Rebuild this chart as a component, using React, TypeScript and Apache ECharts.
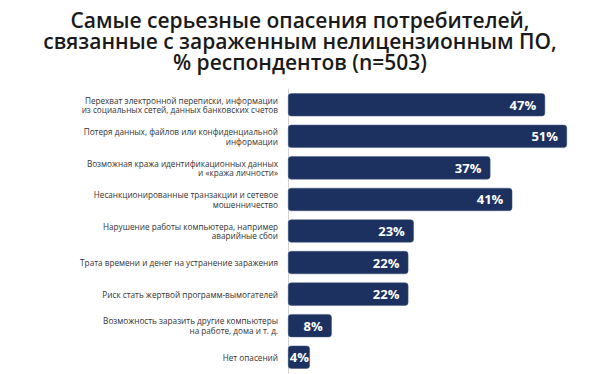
import React, { useEffect, useRef } from "react";
import * as echarts from "echarts";

const categories: string[] = [
  "Перехват электронной переписки, информации\nиз социальных сетей, данных банковских счетов",
  "Потеря данных, файлов или конфиденциальной\nинформации",
  "Возможная кража идентификационных данных\nи «кража личности»",
  "Несанкционированные транзакции и сетевое\nмошенничество",
  "Нарушение работы компьютера, например\nаварийные сбои",
  "Трата времени и денег на устранение заражения",
  "Риск стать жертвой программ-вымогателей",
  "Возможность заразить другие компьютеры\nна работе, дома и т. д.",
  "Нет опасений",
];
const values: number[] = [47, 51, 37, 41, 23, 22, 22, 8, 4];

const titleLines: string[] = [
  "Самые серьезные опасения потребителей,",
  "связанные с зараженным нелицензионным ПО,",
  "% респондентов (n=503)",
];

export default function App() {
  const ref = useRef<HTMLDivElement>(null);
  useEffect(() => {
    if (!ref.current) return;
    const chart = echarts.init(ref.current, null, { renderer: "svg" });
    const seriesData = values.map((v) =>
      v < 6 ? { value: v, label: { distance: 1 } } : { value: v }
    );
    chart.setOption({
      animation: false,
      backgroundColor: "#ffffff",
      title: titleLines.map((t, i) => ({
        text: t,
        left: "center",
        top: 9 + i * 21,
        padding: 0,
        textStyle: {
          fontFamily: "Open Sans",
          fontWeight: 600,
          fontSize: 21,
          lineHeight: 21,
          color: "#1a1a1a",
        },
      })),
      grid: { left: 288, top: 89, width: 295.4, height: 284 },
      xAxis: {
        type: "value",
        min: 0,
        max: 54,
        show: false,
      },
      yAxis: {
        type: "category",
        data: categories,
        inverse: true,
        axisLine: { show: true, lineStyle: { color: "#d0d0d0", width: 1 } },
        axisTick: { show: false },
        axisLabel: {
          margin: 10,
          fontFamily: "Open Sans",
          fontSize: 8.2,
          lineHeight: 9.5,
          color: "#333333",
          align: "right",
        },
      },
      series: [
        {
          type: "bar",
          data: seriesData,
          barCategoryGap: "27%",
          itemStyle: {
            color: "#1c3160",
            borderRadius: 3,
            borderColor: "#44587f",
            borderWidth: 0.5,
          },
          label: {
            show: true,
            position: "insideRight",
            distance: 9,
            formatter: "{c}%",
            color: "#ffffff",
            fontFamily: "Open Sans",
            fontWeight: "bold",
            fontSize: 13,
          },
        },
      ],
    });
    return () => chart.dispose();
  }, []);
  return (
    <div
      ref={ref}
      style={{ position: "fixed", left: 0, top: 0, width: 600, height: 374 }}
    />
  );
}
